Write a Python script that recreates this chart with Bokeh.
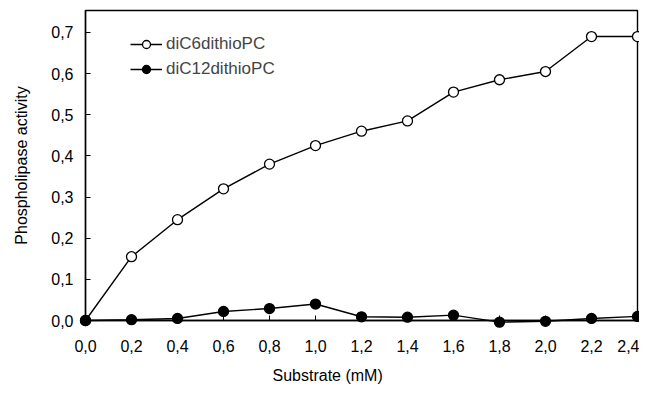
from bokeh.plotting import figure
from bokeh.models import FixedTicker, Legend, LegendItem, Range1d, Title
from bokeh.embed import file_html
from bokeh.resources import INLINE

substrate = [0.0, 0.2, 0.4, 0.6, 0.8, 1.0, 1.2, 1.4, 1.6, 1.8, 2.0, 2.2, 2.4]
dic6 = [0.0, 0.155, 0.245, 0.32, 0.38, 0.425, 0.46, 0.485, 0.555, 0.585, 0.605, 0.69, 0.69]
dic12 = [0.0, 0.002, 0.005, 0.022, 0.029, 0.040, 0.009, 0.008, 0.013, -0.004, -0.002, 0.005, 0.010]

x_ticks = [0.0, 0.2, 0.4, 0.6, 0.8, 1.0, 1.2, 1.4, 1.6, 1.8, 2.0, 2.2, 2.4]
x_labels = ["0,0", "0,2", "0,4", "0,6", "0,8", "1,0", "1,2", "1,4", "1,6", "1,8", "2,0", "2,2", "2,4"]
y_ticks = [0.0, 0.1, 0.2, 0.3, 0.4, 0.5, 0.6, 0.7]
y_labels = ["0,0", "0,1", "0,2", "0,3", "0,4", "0,5", "0,6", "0,7"]
x_title = "Substrate (mM)"
y_title = "Phospholipase activity"

FONT = "Liberation Sans"

p = figure(width=639, height=394, output_backend="svg", toolbar_location=None,
           x_range=Range1d(0, 2.4), y_range=Range1d(0, 0.7533),
           min_border_left=85, min_border_right=2, min_border_top=10, min_border_bottom=73)
p.grid.visible = False
p.background_fill_color = "white"
p.border_fill_color = "white"
p.outline_line_color = "black"
p.outline_line_width = 1.4

for ax in (p.xaxis[0], p.yaxis[0]):
    ax.axis_line_color = "black"
    ax.axis_line_width = 1.4
    ax.major_tick_in = 5
    ax.major_tick_out = 0
    ax.minor_tick_in = 0
    ax.minor_tick_out = 0
    ax.major_tick_line_color = "black"
    ax.major_label_text_font = FONT
    ax.major_label_text_font_size = "16px"
    ax.major_label_text_color = "black"
    ax.axis_label_text_font = FONT
    ax.axis_label_text_font_size = "16px"
    ax.axis_label_text_font_style = "normal"
    ax.axis_label_text_color = "black"

p.xaxis.ticker = FixedTicker(ticks=x_ticks)
p.xaxis.major_label_overrides = {t: l for t, l in zip(x_ticks, x_labels)}
p.yaxis.ticker = FixedTicker(ticks=y_ticks)
p.yaxis.major_label_overrides = {t: l for t, l in zip(y_ticks, y_labels)}
p.yaxis.axis_label = y_title
p.xaxis.major_label_standoff = 19
p.yaxis.major_label_standoff = 12
p.yaxis.axis_label_standoff = 18

# x title sits left of the frame centre in the original
p.add_layout(Title(text=x_title, align="left", offset=187, standoff=21,
                   text_font=FONT, text_font_size="16px", text_font_style="normal",
                   text_color="black"), "below")

l1 = p.line(substrate, dic6, line_color="black", line_width=1.4, level="overlay")
s1 = p.scatter(substrate, dic6, size=10, fill_color="white", line_color="black",
               line_width=1.3, level="overlay")
l2 = p.line(substrate, dic12, line_color="black", line_width=1.4, level="overlay")
s2 = p.scatter(substrate, dic12, size=10, fill_color="black", line_color="black",
               line_width=1.3, level="overlay")

legend = Legend(items=[LegendItem(label="diC6dithioPC", renderers=[l1, s1]),
                       LegendItem(label="diC12dithioPC", renderers=[l2, s2])],
                location=(45, 241), padding=0, margin=0, spacing=5,
                glyph_width=32, glyph_height=20, label_standoff=4,
                label_text_font=FONT, label_text_font_size="17px",
                border_line_color=None, background_fill_alpha=0)
p.add_layout(legend, "center")

open("out.html", "w").write(file_html(p, INLINE))
